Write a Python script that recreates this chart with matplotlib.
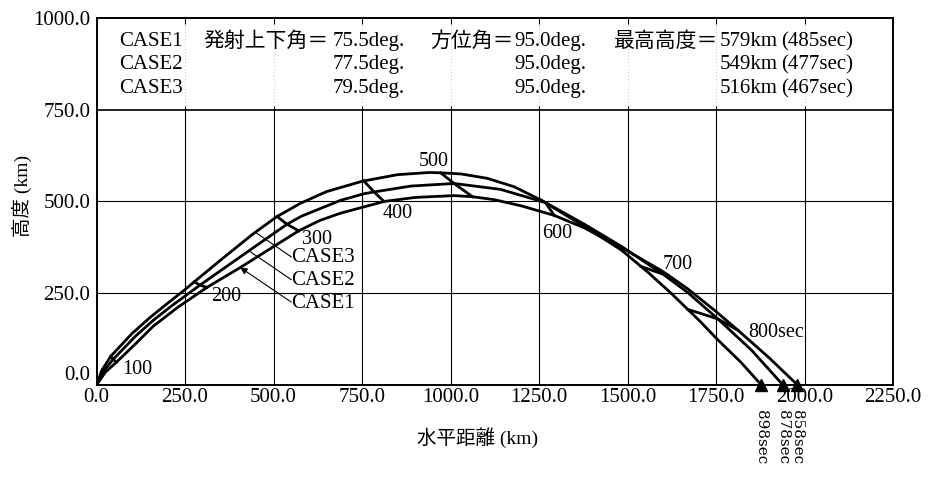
import matplotlib
matplotlib.use("Agg")
import matplotlib.pyplot as plt

plt.rcParams['font.family'] = ['Liberation Serif', 'Noto Sans CJK JP', 'DejaVu Sans']

# ---- flight conditions (table at the top) ----
case_names = ["CASE1", "CASE2", "CASE3"]
elevation_deg = [75.5, 77.5, 79.5]
azimuth_deg = [95.0, 95.0, 95.0]
apogee_km = [579, 549, 516]
apogee_sec = [485, 477, 467]

# ---- trajectories: horizontal distance (km) vs altitude (km) ----
upper_x = [0, 15, 100, 150, 200, 250, 350, 444, 576, 650, 750, 850, 940, 1030, 1104,
           1180, 1378, 1482, 1560, 1623, 1700, 1755, 1820, 1878]
upper_y = [0, 40, 140, 183, 222, 260, 340, 413, 495, 527, 555, 573, 579, 575, 563,
           540, 432, 368, 305, 250, 178, 123, 62, 0]

middle_x = [0, 20, 110, 160, 210, 434, 579, 689, 755, 888, 1141,
            1378, 1482, 1670, 1850, 1939]
middle_y = [0, 38, 133, 176, 214, 368, 460, 503, 521, 542, 533,
            438, 378, 252, 95, 0]

lower_x = [0, 25, 110, 160, 230, 406, 500, 630, 689, 900, 1010, 1123, 1200, 1378, 1500,
           1595, 1670, 1750, 1900, 1980]
lower_y = [0, 35, 112, 160, 212, 320, 377, 448, 468, 511, 516, 505, 488, 428, 365,
           312, 262, 200, 74, 0]

# ---- positions at 100 s intervals (100 ... 800 sec) ----
mark_sec = [100, 200, 300, 400, 500, 600, 700, 800]
upper_mark_x = [40, 276, 510, 755, 972, 1255, 1538, 1670]
upper_mark_y = [78, 281, 459, 556, 578, 504, 323, 206]
middle_mark_x = [47, 292, 538, 784, 1010, 1268, 1600, 1755]
middle_mark_y = [70, 272, 438, 526, 549, 497, 302, 180]
lower_mark_x = [56, 312, 571, 812, 1062, 1293, 1615, 1812]
lower_mark_y = [62, 266, 420, 500, 513, 462, 299, 149]

# ---- impact points ----
impact_x = [1878, 1939, 1980]
impact_sec = [898, 878, 858]

x_ticks = [0, 250, 500, 750, 1000, 1250, 1500, 1750, 2000, 2250]
y_ticks = [0, 250, 500, 750, 1000]

FS = 15
LW = 2.0

fig = plt.figure(figsize=(9.30, 4.78), dpi=100)
ax = fig.add_axes([0.1038, 0.1946, 0.8565, 0.7678])
ax.set_xlim(0, 2250)
ax.set_ylim(0, 1000)

# grid below the table area, faint dotted continuation inside it
for xv in x_ticks[1:-1]:
    ax.plot([xv, xv], [0, 760], color='black', lw=0.8, zorder=1)
    ax.plot([xv, xv], [760, 1000], color='#b0b0b0', lw=0.6, ls=(0, (1, 3)), zorder=1)
for yv in y_ticks[1:-1]:
    ax.axhline(yv, color='black', lw=0.8 if yv < 750 else 1.2, zorder=1)


def merged(xs, ys, mx, my):
    pts = sorted(zip(list(xs) + list(mx), list(ys) + list(my)))
    return [p[0] for p in pts], [p[1] for p in pts]


curves = [
    merged(upper_x, upper_y, upper_mark_x, upper_mark_y),
    merged(middle_x, middle_y, middle_mark_x, middle_mark_y),
    merged(lower_x, lower_y, lower_mark_x, lower_mark_y),
]
for cx, cy in curves:
    ax.plot(cx, cy, color='black', lw=LW, solid_joinstyle='round', zorder=3)

# time ticks joining equal-time points of the three trajectories
for i in range(len(mark_sec)):
    ax.plot([upper_mark_x[i], middle_mark_x[i], lower_mark_x[i]],
            [upper_mark_y[i], middle_mark_y[i], lower_mark_y[i]],
            color='black', lw=LW, zorder=3)

# time labels
time_label_pos = {100: (72, 41), 200: (325, 241), 300: (580, 396), 400: (808, 468),
                  500: (910, 608), 600: (1260, 413), 700: (1600, 327), 800: (1840, 142)}
for s in mark_sec:
    tx, ty = time_label_pos[s]
    txt = f"{s}sec" if s == mark_sec[-1] else f"{s}"
    ax.text(tx, ty, txt, fontsize=FS - 0.5, ha='left', va='center', zorder=4)

# case labels with leader lines
case_label_pos = {"CASE3": (550, 346), "CASE2": (550, 284), "CASE1": (550, 223)}
leader_end = {"CASE3": (449, 416), "CASE2": (430, 366), "CASE1": (406, 320)}
for name in ["CASE3", "CASE2", "CASE1"]:
    lx, ly = case_label_pos[name]
    ax.text(lx, ly, name, fontsize=FS, ha='left', va='center', zorder=4)
    ex, ey = leader_end[name]
    if name == "CASE1":
        ax.annotate("", xy=(ex, ey), xytext=(lx, ly + 3),
                    arrowprops=dict(arrowstyle='-|>', color='black', lw=0.8,
                                    mutation_scale=10, shrinkA=0, shrinkB=0), zorder=4)
    else:
        ax.plot([lx, ex], [ly + 3, ey], color='black', lw=0.8, zorder=4)

# impact markers
ax.plot(impact_x, [0] * len(impact_x), linestyle='none', marker='^', color='black',
        markersize=9, clip_on=False, zorder=5)
for xv, s in zip(impact_x, impact_sec):
    ax.text(xv, -68, f"{s}sec", fontsize=11, family='DejaVu Serif', rotation=-90,
            ha='center', va='top', clip_on=False)

# condition table
row_y = [935, 872, 808]
for i in range(3):
    y = row_y[i]
    ax.text(64, y, case_names[i], fontsize=FS, ha='left', va='center')
    ax.text(666, y, f"{elevation_deg[i]:.1f}deg.", fontsize=FS, ha='left', va='center')
    ax.text(1179, y, f"{azimuth_deg[i]:.1f}deg.", fontsize=FS, ha='left', va='center')
    ax.text(1759, y, f"{apogee_km[i]}km", fontsize=FS, ha='left', va='center')
    ax.text(1935, y, f"({apogee_sec[i]}sec)", fontsize=FS, ha='left', va='center')
ax.text(301, row_y[0], "発射上下角＝", fontsize=FS, ha='left', va='center')
ax.text(943, row_y[0], "方位角＝", fontsize=FS, ha='left', va='center')
ax.text(1462, row_y[0], "最高高度＝", fontsize=FS, ha='left', va='center')

# axes styling
ax.set_xticks(x_ticks)
ax.set_xticklabels([f"{v:.1f}" for v in x_ticks], fontsize=FS)
ax.set_yticks(y_ticks)
ylabels = ax.set_yticklabels([f"{v:.1f}" for v in y_ticks], fontsize=FS)
ylabels[0].set_va('bottom')
ax.tick_params(axis='x', which='both', bottom=False, top=True, direction='in',
               length=4, width=0.8, pad=2)
ax.tick_params(axis='y', which='both', left=False, right=False, pad=1)
for sp in ax.spines.values():
    sp.set_linewidth(1.4)

fig.text(478 / 930, 1 - 438 / 478, "水平距離 (km)", fontsize=FS - 1, ha='center', va='center')
fig.text(22 / 930, 1 - 196 / 478, "高度 (km)", fontsize=FS - 1, ha='center', va='center',
         rotation=90)

fig.savefig("out.png", dpi=100)
